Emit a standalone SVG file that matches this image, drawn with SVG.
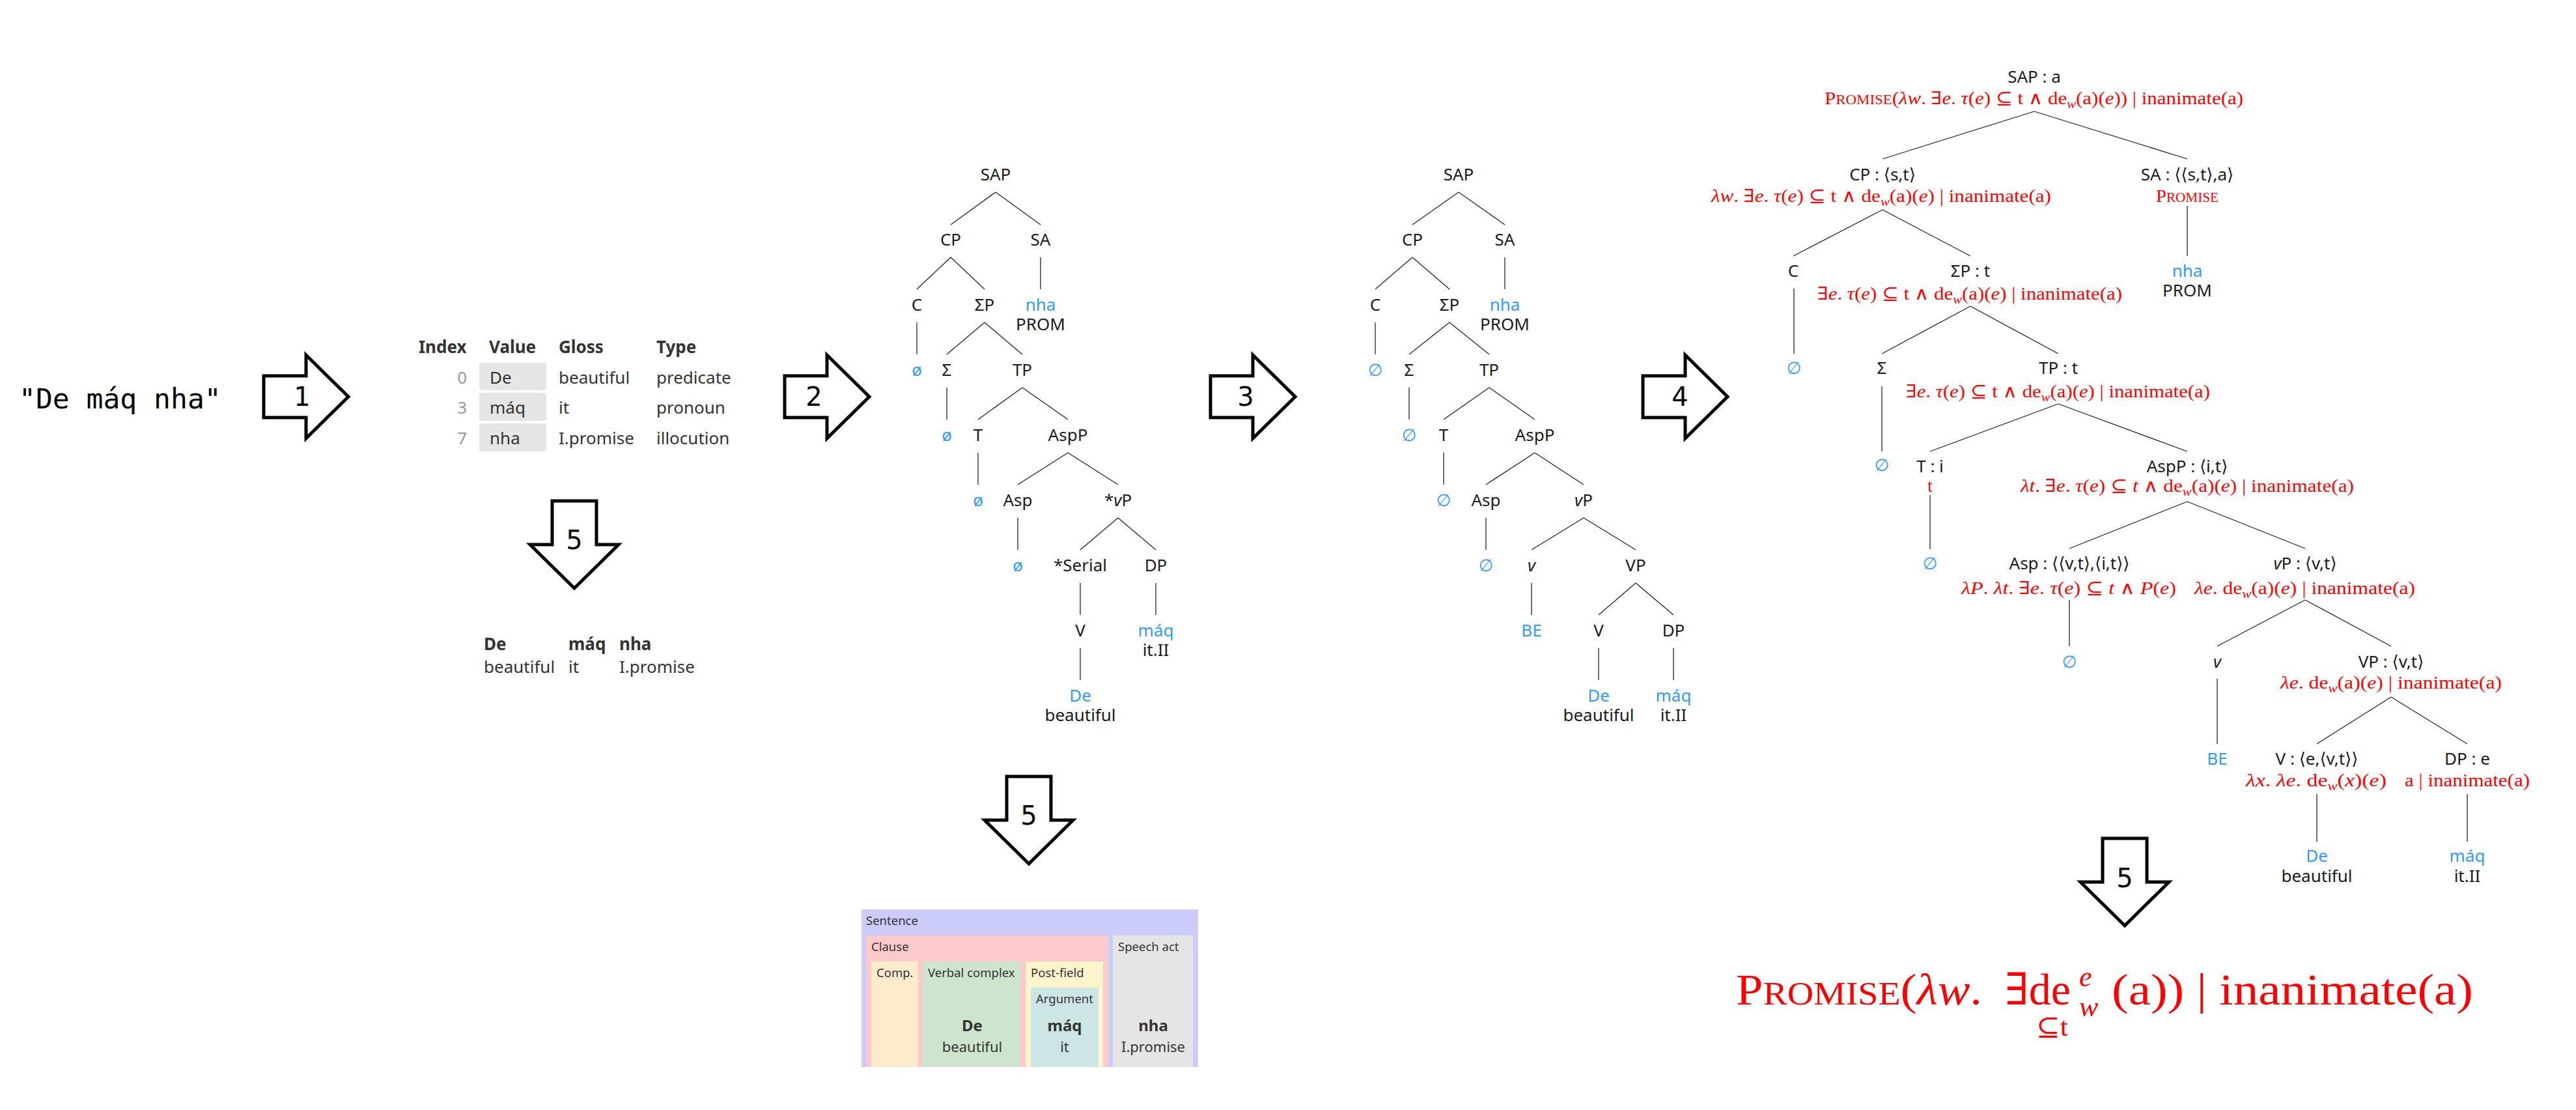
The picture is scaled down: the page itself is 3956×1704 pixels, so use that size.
<svg xmlns="http://www.w3.org/2000/svg" width="3956" height="1704" viewBox="0 0 3956 1704">
<style>
.t{font-family:"Noto Sans","Open Sans","DejaVu Sans",sans-serif;font-size:26px;fill:#1a1a1a;text-anchor:middle}
.b{fill:#3399ff}
.f{font-family:"Liberation Serif","DejaVu Serif",serif;font-size:27px;fill:#ff0000}
.i{font-style:italic}
.s{font-size:18px;font-style:italic}
.sc{font-size:20px}
.ln line{stroke:#222;stroke-width:1.3}
.arr{fill:#fff;stroke:#000;stroke-width:5;stroke-linejoin:miter}
.al{font-family:"DejaVu Sans",sans-serif;font-size:40px;text-anchor:middle;fill:#000}
.tb{font-family:"Noto Sans","Open Sans",sans-serif;font-size:26px;fill:#333}
.hd{font-weight:bold}
.ix{fill:#999;text-anchor:end}
.bl{font-family:"Noto Sans","Open Sans",sans-serif;font-size:18.5px;fill:#333}
.bw{font-family:"Noto Sans","Open Sans",sans-serif;font-size:24px;font-weight:bold;fill:#333;text-anchor:middle}
.bg{font-family:"Noto Sans","Open Sans",sans-serif;font-size:22px;fill:#333;text-anchor:middle}
</style>
<defs>
<path id="ra" class="arr" d="M0,-32 H65 V-64 L130,0 L65,64 V32 H0 Z"/>
<path id="da" class="arr" d="M-34,0 H34 V67 H68 L0,134 L-68,67 H-34 Z"/>
</defs>
<rect width="3956" height="1704" fill="#fff"/>

<g id="input"><text x="29" y="627" font-family="DejaVu Sans Mono, monospace" font-size="43" fill="#000">"De máq nha"</text></g>

<g id="arrow1"><use href="#ra" transform="translate(405,609)"/><text class="al" x="464" y="623">1</text></g>
<g id="arrow2"><use href="#ra" transform="translate(1205,609)"/><text class="al" x="1250" y="623">2</text></g>
<g id="arrow3"><use href="#ra" transform="translate(1859,609)"/><text class="al" x="1913" y="623">3</text></g>
<g id="arrow4"><use href="#ra" transform="translate(2523,609)"/><text class="al" x="2580" y="623">4</text></g>
<g id="arrow5a"><use href="#da" transform="translate(882,769)"/><text class="al" x="882" y="843">5</text></g>
<g id="arrow5b"><use href="#da" transform="translate(1580,1192)"/><text class="al" x="1580" y="1266">5</text></g>
<g id="arrow5c"><use href="#da" transform="translate(3263,1287)"/><text class="al" x="3263" y="1362">5</text></g>

<g id="token-table">
<rect x="736" y="557" width="103" height="42" rx="4" fill="#e6e6e6"/>
<rect x="736" y="603" width="103" height="43" rx="4" fill="#e6e6e6"/>
<rect x="736" y="650" width="103" height="43" rx="4" fill="#e6e6e6"/>
<text class="tb hd" x="643" y="542">Index</text>
<text class="tb hd" x="751" y="542">Value</text>
<text class="tb hd" x="858" y="542">Gloss</text>
<text class="tb hd" x="1008" y="542">Type</text>
<text class="tb ix" x="717" y="589">0</text><text class="tb" x="752" y="589">De</text><text class="tb" x="858" y="589">beautiful</text><text class="tb" x="1008" y="589">predicate</text>
<text class="tb ix" x="717" y="635">3</text><text class="tb" x="752" y="635">máq</text><text class="tb" x="858" y="635">it</text><text class="tb" x="1008" y="635">pronoun</text>
<text class="tb ix" x="717" y="682">7</text><text class="tb" x="752" y="682">nha</text><text class="tb" x="858" y="682">I.promise</text><text class="tb" x="1008" y="682">illocution</text>
</g>

<g id="gloss-line">
<text class="tb hd" x="743" y="998">De</text><text class="tb hd" x="873" y="998">máq</text><text class="tb hd" x="951" y="998">nha</text>
<text class="tb" x="743" y="1033">beautiful</text><text class="tb" x="873" y="1033">it</text><text class="tb" x="951" y="1033">I.promise</text>
</g>

<g id="field-chart">
<rect x="1323" y="1396" width="517" height="242" fill="#ccccfa"/>
<text class="bl" x="1330" y="1420">Sentence</text>
<rect x="1330" y="1436" width="372" height="202" fill="#fccaca"/>
<text class="bl" x="1338" y="1460">Clause</text>
<rect x="1709" y="1436" width="123" height="202" fill="#e5e5e5"/>
<text class="bl" x="1717" y="1460">Speech act</text>
<rect x="1338" y="1476" width="72" height="162" fill="#feeacc"/>
<text class="bl" x="1346" y="1500">Comp.</text>
<rect x="1417" y="1476" width="150" height="162" fill="#cce5cc"/>
<text class="bl" x="1425" y="1500">Verbal complex</text>
<rect x="1575" y="1476" width="119" height="162" fill="#fff5cc"/>
<text class="bl" x="1583" y="1500">Post-field</text>
<rect x="1583" y="1516" width="104" height="122" fill="#cce5e5"/>
<text class="bl" x="1635" y="1540" text-anchor="middle">Argument</text>
<text class="bw" x="1493" y="1583">De</text><text class="bg" x="1493" y="1615">beautiful</text>
<text class="bw" x="1635" y="1583">máq</text><text class="bg" x="1635" y="1615">it</text>
<text class="bw" x="1771" y="1583">nha</text><text class="bg" x="1771" y="1615">I.promise</text>
</g>

<g id="connectors" class="ln">
<line x1="1529" y1="295" x2="1460" y2="345"/><line x1="1529" y1="295" x2="1598" y2="345"/>
<line x1="1460" y1="395" x2="1408" y2="444"/><line x1="1460" y1="395" x2="1512" y2="444"/><line x1="1598" y1="395" x2="1598" y2="444"/>
<line x1="1408" y1="495" x2="1408" y2="544"/><line x1="1512" y1="495" x2="1454" y2="544"/><line x1="1512" y1="495" x2="1570" y2="544"/>
<line x1="1454" y1="595" x2="1454" y2="644"/><line x1="1570" y1="595" x2="1502" y2="644"/><line x1="1570" y1="595" x2="1640" y2="644"/>
<line x1="1502" y1="695" x2="1502" y2="744"/><line x1="1640" y1="695" x2="1563" y2="744"/><line x1="1640" y1="695" x2="1717" y2="744"/>
<line x1="1563" y1="795" x2="1563" y2="844"/><line x1="1717" y1="795" x2="1659" y2="844"/><line x1="1717" y1="795" x2="1775" y2="844"/>
<line x1="1659" y1="895" x2="1659" y2="944"/><line x1="1775" y1="895" x2="1775" y2="944"/>
<line x1="1659" y1="995" x2="1659" y2="1044"/>

<line x1="2240" y1="295" x2="2169" y2="345"/><line x1="2240" y1="295" x2="2311" y2="345"/>
<line x1="2169" y1="395" x2="2112" y2="444"/><line x1="2169" y1="395" x2="2226" y2="444"/><line x1="2311" y1="395" x2="2311" y2="444"/>
<line x1="2112" y1="495" x2="2112" y2="544"/><line x1="2226" y1="495" x2="2164" y2="544"/><line x1="2226" y1="495" x2="2287" y2="544"/>
<line x1="2164" y1="595" x2="2164" y2="644"/><line x1="2287" y1="595" x2="2217" y2="644"/><line x1="2287" y1="595" x2="2357" y2="644"/>
<line x1="2217" y1="695" x2="2217" y2="744"/><line x1="2357" y1="695" x2="2282" y2="744"/><line x1="2357" y1="695" x2="2432" y2="744"/>
<line x1="2282" y1="795" x2="2282" y2="844"/><line x1="2432" y1="795" x2="2352" y2="844"/><line x1="2432" y1="795" x2="2512" y2="844"/>
<line x1="2352" y1="895" x2="2352" y2="944"/><line x1="2512" y1="895" x2="2455" y2="944"/><line x1="2512" y1="895" x2="2570" y2="944"/>
<line x1="2455" y1="995" x2="2455" y2="1044"/><line x1="2570" y1="995" x2="2570" y2="1044"/>

<line x1="3124" y1="171" x2="2891" y2="244"/><line x1="3124" y1="171" x2="3359" y2="244"/>
<line x1="2891" y1="322" x2="2754" y2="393"/><line x1="2891" y1="322" x2="3026" y2="393"/><line x1="3359" y1="316" x2="3359" y2="393"/>
<line x1="2755" y1="443" x2="2755" y2="543"/><line x1="3026" y1="470" x2="2890" y2="543"/><line x1="3026" y1="470" x2="3161" y2="543"/>
<line x1="2890" y1="593" x2="2890" y2="693"/><line x1="3161" y1="620" x2="2964" y2="693"/><line x1="3161" y1="620" x2="3359" y2="693"/>
<line x1="2964" y1="760" x2="2964" y2="843"/><line x1="3359" y1="770" x2="3178" y2="842"/><line x1="3359" y1="770" x2="3540" y2="842"/>
<line x1="3178" y1="921" x2="3178" y2="992"/><line x1="3540" y1="921" x2="3405" y2="992"/><line x1="3540" y1="921" x2="3672" y2="992"/>
<line x1="3405" y1="1042" x2="3405" y2="1142"/><line x1="3672" y1="1070" x2="3558" y2="1142"/><line x1="3672" y1="1070" x2="3789" y2="1142"/>
<line x1="3558" y1="1219" x2="3558" y2="1292"/><line x1="3789" y1="1219" x2="3789" y2="1292"/>
</g>

<g id="tree2">
<g id="t2-SAP"><text class="t" x="1529" y="277">SAP</text></g>
<g id="t2-CP"><text class="t" x="1460" y="377">CP</text></g>
<g id="t2-SA"><text class="t" x="1598" y="377">SA</text></g>
<g id="t2-C"><text class="t" x="1408" y="477">C</text></g>
<g id="t2-SigmaP"><text class="t" x="1512" y="477">ΣP</text></g>
<g id="t2-nha"><text class="t b" x="1598" y="477">nha</text><text class="t" x="1598" y="507">PROM</text></g>
<g id="t2-C0"><text class="t b" x="1408" y="577">ø</text></g>
<g id="t2-Sigma"><text class="t" x="1454" y="577">Σ</text></g>
<g id="t2-TP"><text class="t" x="1570" y="577">TP</text></g>
<g id="t2-S0"><text class="t b" x="1454" y="677">ø</text></g>
<g id="t2-T"><text class="t" x="1502" y="677">T</text></g>
<g id="t2-AspP"><text class="t" x="1640" y="677">AspP</text></g>
<g id="t2-T0"><text class="t b" x="1502" y="777">ø</text></g>
<g id="t2-Asp"><text class="t" x="1563" y="777">Asp</text></g>
<g id="t2-vP"><text class="t" x="1717" y="777">*<tspan class="i">v</tspan>P</text></g>
<g id="t2-A0"><text class="t b" x="1563" y="877">ø</text></g>
<g id="t2-Serial"><text class="t" x="1659" y="877">*Serial</text></g>
<g id="t2-DP"><text class="t" x="1775" y="877">DP</text></g>
<g id="t2-V"><text class="t" x="1659" y="977">V</text></g>
<g id="t2-maq"><text class="t b" x="1775" y="977">máq</text><text class="t" x="1775" y="1007">it.II</text></g>
<g id="t2-De"><text class="t b" x="1659" y="1077">De</text><text class="t" x="1659" y="1107">beautiful</text></g>
</g>

<g id="tree3">
<g id="t3-SAP"><text class="t" x="2240" y="277">SAP</text></g>
<g id="t3-CP"><text class="t" x="2169" y="377">CP</text></g>
<g id="t3-SA"><text class="t" x="2311" y="377">SA</text></g>
<g id="t3-C"><text class="t" x="2112" y="477">C</text></g>
<g id="t3-SigmaP"><text class="t" x="2226" y="477">ΣP</text></g>
<g id="t3-nha"><text class="t b" x="2311" y="477">nha</text><text class="t" x="2311" y="507">PROM</text></g>
<g id="t3-C0"><text class="t b" x="2112" y="577">∅</text></g>
<g id="t3-Sigma"><text class="t" x="2164" y="577">Σ</text></g>
<g id="t3-TP"><text class="t" x="2287" y="577">TP</text></g>
<g id="t3-S0"><text class="t b" x="2164" y="677">∅</text></g>
<g id="t3-T"><text class="t" x="2217" y="677">T</text></g>
<g id="t3-AspP"><text class="t" x="2357" y="677">AspP</text></g>
<g id="t3-T0"><text class="t b" x="2217" y="777">∅</text></g>
<g id="t3-Asp"><text class="t" x="2282" y="777">Asp</text></g>
<g id="t3-vP"><text class="t" x="2432" y="777"><tspan class="i">v</tspan>P</text></g>
<g id="t3-A0"><text class="t b" x="2282" y="877">∅</text></g>
<g id="t3-v"><text class="t i" x="2352" y="877">v</text></g>
<g id="t3-VP"><text class="t" x="2512" y="877">VP</text></g>
<g id="t3-BE"><text class="t b" x="2352" y="977">BE</text></g>
<g id="t3-V"><text class="t" x="2455" y="977">V</text></g>
<g id="t3-DP"><text class="t" x="2570" y="977">DP</text></g>
<g id="t3-De"><text class="t b" x="2455" y="1077">De</text><text class="t" x="2455" y="1107">beautiful</text></g>
<g id="t3-maq"><text class="t b" x="2570" y="1077">máq</text><text class="t" x="2570" y="1107">it.II</text></g>
</g>

<g id="tree4">
<g id="t4-SAP"><text class="t" x="3124" y="127">SAP : a</text>
<text class="f" x="2802" y="160" textLength="643" lengthAdjust="spacingAndGlyphs">P<tspan class="sc">ROMISE</tspan>(<tspan class="i">λw</tspan>. ∃<tspan class="i">e</tspan>. <tspan class="i">τ</tspan>(<tspan class="i">e</tspan>) ⊆ t ∧ de<tspan class="s" dy="6">w</tspan><tspan dy="-6">(a)(</tspan><tspan class="i">e</tspan>)) | inanimate(a)</text></g>
<g id="t4-CP"><text class="t" x="2891" y="277">CP : ⟨s,t⟩</text>
<text class="f" x="2628" y="310" textLength="522" lengthAdjust="spacingAndGlyphs"><tspan class="i">λw</tspan>. ∃<tspan class="i">e</tspan>. <tspan class="i">τ</tspan>(<tspan class="i">e</tspan>) ⊆ t ∧ de<tspan class="s" dy="6">w</tspan><tspan dy="-6">(a)(</tspan><tspan class="i">e</tspan>) | inanimate(a)</text></g>
<g id="t4-SA"><text class="t" x="3359" y="277">SA : ⟨⟨s,t⟩,a⟩</text>
<text class="f" x="3311" y="310" textLength="96" lengthAdjust="spacingAndGlyphs">P<tspan class="sc">ROMISE</tspan></text></g>
<g id="t4-nha"><text class="t b" x="3359" y="425">nha</text><text class="t" x="3359" y="455">PROM</text></g>
<g id="t4-C"><text class="t" x="2754" y="425">C</text></g>
<g id="t4-SigmaP"><text class="t" x="3026" y="425">ΣP : t</text>
<text class="f" x="2791" y="460" textLength="468" lengthAdjust="spacingAndGlyphs">∃<tspan class="i">e</tspan>. <tspan class="i">τ</tspan>(<tspan class="i">e</tspan>) ⊆ t ∧ de<tspan class="s" dy="6">w</tspan><tspan dy="-6">(a)(</tspan><tspan class="i">e</tspan>) | inanimate(a)</text></g>
<g id="t4-C0"><text class="t b" x="2755" y="574">∅</text></g>
<g id="t4-Sigma"><text class="t" x="2890" y="574">Σ</text></g>
<g id="t4-TP"><text class="t" x="3161" y="574">TP : t</text>
<text class="f" x="2927" y="610" textLength="467" lengthAdjust="spacingAndGlyphs">∃<tspan class="i">e</tspan>. <tspan class="i">τ</tspan>(<tspan class="i">e</tspan>) ⊆ t ∧ de<tspan class="s" dy="6">w</tspan><tspan dy="-6">(a)(</tspan><tspan class="i">e</tspan>) | inanimate(a)</text></g>
<g id="t4-S0"><text class="t b" x="2890" y="723">∅</text></g>
<g id="t4-T"><text class="t" x="2964" y="725">T : i</text><text class="f" x="2964" y="755" text-anchor="middle">t</text></g>
<g id="t4-AspP"><text class="t" x="3359" y="725">AspP : ⟨i,t⟩</text>
<text class="f" x="3103" y="755" textLength="512" lengthAdjust="spacingAndGlyphs"><tspan class="i">λt</tspan>. ∃<tspan class="i">e</tspan>. <tspan class="i">τ</tspan>(<tspan class="i">e</tspan>) ⊆ <tspan class="i">t</tspan> ∧ de<tspan class="s" dy="6">w</tspan><tspan dy="-6">(a)(</tspan><tspan class="i">e</tspan>) | inanimate(a)</text></g>
<g id="t4-T0"><text class="t b" x="2964" y="874">∅</text></g>
<g id="t4-Asp"><text class="t" x="3178" y="874">Asp : ⟨⟨v,t⟩,⟨i,t⟩⟩</text>
<text class="f" x="3012" y="912" textLength="330" lengthAdjust="spacingAndGlyphs"><tspan class="i">λP</tspan>. <tspan class="i">λt</tspan>. ∃<tspan class="i">e</tspan>. <tspan class="i">τ</tspan>(<tspan class="i">e</tspan>) ⊆ <tspan class="i">t</tspan> ∧ <tspan class="i">P</tspan>(<tspan class="i">e</tspan>)</text></g>
<g id="t4-vP"><text class="t" x="3540" y="874"><tspan class="i">v</tspan>P : ⟨v,t⟩</text>
<text class="f" x="3370" y="912" textLength="339" lengthAdjust="spacingAndGlyphs"><tspan class="i">λe</tspan>. de<tspan class="s" dy="6">w</tspan><tspan dy="-6">(a)(</tspan><tspan class="i">e</tspan>) | inanimate(a)</text></g>
<g id="t4-A0"><text class="t b" x="3178" y="1025">∅</text></g>
<g id="t4-v"><text class="t i" x="3405" y="1025">v</text></g>
<g id="t4-VP"><text class="t" x="3672" y="1025">VP : ⟨v,t⟩</text>
<text class="f" x="3502" y="1057" textLength="340" lengthAdjust="spacingAndGlyphs"><tspan class="i">λe</tspan>. de<tspan class="s" dy="6">w</tspan><tspan dy="-6">(a)(</tspan><tspan class="i">e</tspan>) | inanimate(a)</text></g>
<g id="t4-BE"><text class="t b" x="3405" y="1174">BE</text></g>
<g id="t4-V"><text class="t" x="3558" y="1174">V : ⟨e,⟨v,t⟩⟩</text>
<text class="f" x="3449" y="1207" textLength="216" lengthAdjust="spacingAndGlyphs"><tspan class="i">λx</tspan>. <tspan class="i">λe</tspan>. de<tspan class="s" dy="6">w</tspan><tspan dy="-6">(</tspan><tspan class="i">x</tspan>)(<tspan class="i">e</tspan>)</text></g>
<g id="t4-DP"><text class="t" x="3789" y="1174">DP : e</text>
<text class="f" x="3693" y="1207" textLength="192" lengthAdjust="spacingAndGlyphs">a | inanimate(a)</text></g>
<g id="t4-De"><text class="t b" x="3558" y="1323">De</text><text class="t" x="3558" y="1354">beautiful</text></g>
<g id="t4-maq"><text class="t b" x="3789" y="1323">máq</text><text class="t" x="3789" y="1354">it.II</text></g>
</g>

<g id="final-formula" font-family="Liberation Serif, DejaVu Serif, serif" fill="#ff0000">
<text x="2666" y="1542" font-size="68" textLength="378" lengthAdjust="spacingAndGlyphs">P<tspan font-size="51">ROMISE</tspan>(<tspan font-style="italic">λw</tspan>.</text>
<text x="3079" y="1542" font-size="68" textLength="101" lengthAdjust="spacingAndGlyphs">∃de</text>
<text x="3193" y="1514" font-size="44" font-style="italic">e</text>
<text x="3193" y="1560" font-size="44" font-style="italic">w</text>
<text x="3127" y="1590" font-size="40" textLength="49" lengthAdjust="spacingAndGlyphs">⊆t</text>
<text x="3243" y="1542" font-size="68" textLength="555" lengthAdjust="spacingAndGlyphs">(a)) | inanimate(a)</text>
</g>
</svg>
